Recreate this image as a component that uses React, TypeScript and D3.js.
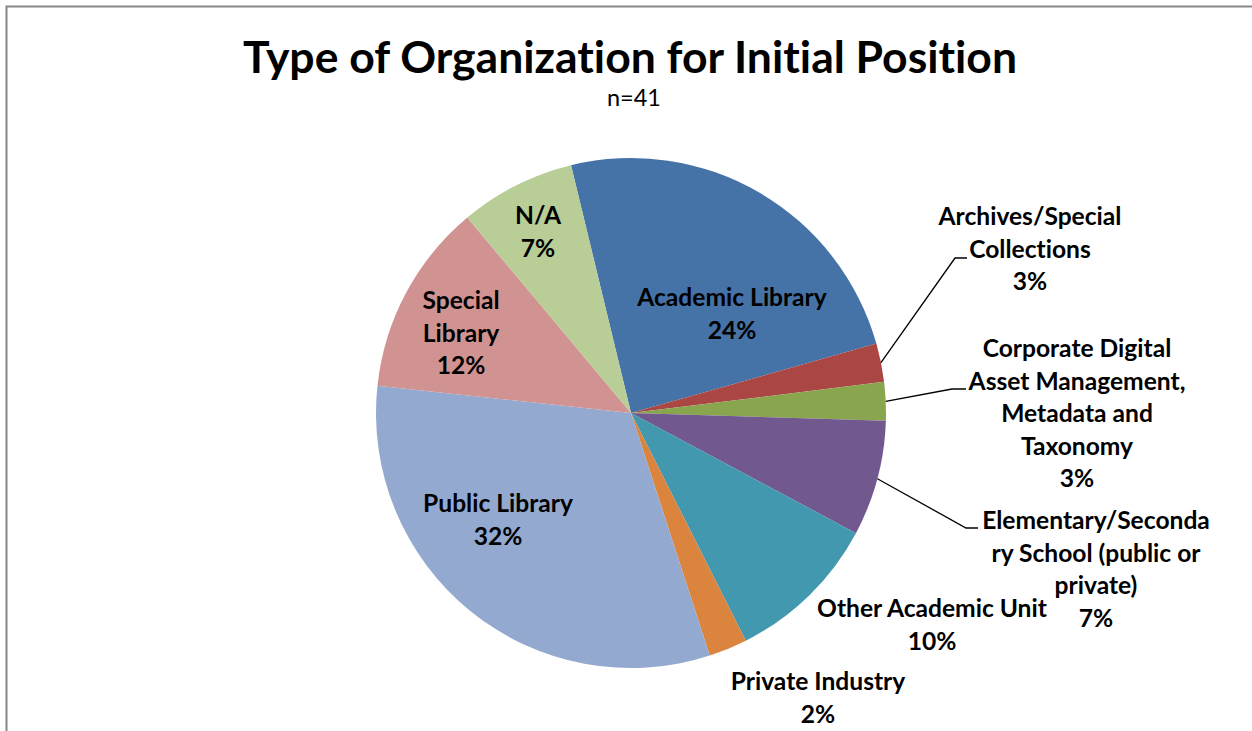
import React from "react";
import * as d3 from "d3";

// ---- data ----
const categories = [
  "Academic Library",
  "Archives/Special Collections",
  "Corporate Digital Asset Management, Metadata and Taxonomy",
  "Elementary/Secondary School (public or private)",
  "Other Academic Unit",
  "Private Industry",
  "Public Library",
  "Special Library",
  "N/A",
];
const counts = [10, 1, 1, 3, 4, 1, 13, 5, 3];
const percentLabels = ["24%", "3%", "3%", "7%", "10%", "2%", "32%", "12%", "7%"];
const labelLines = [
  ["Academic Library"],
  ["Archives/Special", "Collections"],
  ["Corporate Digital", "Asset Management,", "Metadata and", "Taxonomy"],
  ["Elementary/Seconda", "ry School (public or", "private)"],
  ["Other Academic Unit"],
  ["Private Industry"],
  ["Public Library"],
  ["Special", "Library"],
  ["N/A"],
];
const colors = [
  "#4572A7", "#AA4643", "#89A54E", "#71588F", "#4198AF",
  "#DB843D", "#93A9CF", "#D19392", "#B9CD96",
];
const title = "Type of Organization for Initial Position";
const subtitle = "n=41";

// ---- layout (offsets relative to pie centre) ----
const W = 1252;
const H = 731;
const cx = 631;
const cy = 413;
const R = 255;
const startDeg = -13.6;
const lineH = 32.5;
// label anchor: centre x offset, first baseline y offset, optional leader elbow
const labelLayout: { dx: number; dy: number; leader?: [number, number, number] }[] = [
  { dx: 101, dy: -107 },
  { dx: 399, dy: -188, leader: [324, -155, 336] },
  { dx: 446, dy: -56, leader: [321, -24, 335] },
  { dx: 465, dy: 116, leader: [335, 115, 347] },
  { dx: 301, dy: 204 },
  { dx: 187, dy: 277 },
  { dx: -133, dy: 99 },
  { dx: -170, dy: -104 },
  { dx: -93, dy: -189 },
];

const FONT = "Lato, 'Open Sans', sans-serif";
const noLig = { fontVariantLigatures: "none" as const, fontKerning: "normal" as const };

export default function App() {
  const pie = d3
    .pie<number>()
    .sort(null)
    .value((d) => d)
    .startAngle((startDeg * Math.PI) / 180)
    .endAngle(((startDeg + 360) * Math.PI) / 180);
  const arcs = pie(counts);
  const arc = d3.arc<d3.PieArcDatum<number>>().innerRadius(0).outerRadius(R);

  return (
    <svg
      width={W}
      height={H}
      style={{ position: "absolute", left: 0, top: 0, background: "#fff" }}
    >
      <rect x={6.5} y={6.5} width={W + 20} height={H + 20} fill="#fff" stroke="#878787" strokeWidth={2} />
      <text
        x={630}
        y={73}
        textAnchor="middle"
        fontFamily={FONT}
        fontWeight={700}
        fontSize={44.5}
        fill="#000"
        style={noLig}
      >
        {title}
      </text>
      <text x={634} y={106} textAnchor="middle" fontFamily={FONT} fontSize={23.5} fill="#000" style={noLig}>
        {subtitle}
      </text>
      <g transform={`translate(${cx},${cy})`}>
        {arcs.map((a, i) => (
          <path key={categories[i]} d={arc(a) || ""} fill={colors[i]} />
        ))}
        {arcs.map((a, i) => {
          const L = labelLayout[i];
          if (!L.leader) return null;
          const mid = (a.startAngle + a.endAngle) / 2;
          const sx = R * Math.sin(mid);
          const sy = -R * Math.cos(mid);
          const [ex, ey, hx] = L.leader;
          return (
            <polyline
              key={"l" + i}
              points={`${sx},${sy} ${ex},${ey} ${hx},${ey}`}
              fill="none"
              stroke="#000"
              strokeWidth={1.3}
            />
          );
        })}
        {labelLines.map((lines, i) => {
          const L = labelLayout[i];
          const all = [...lines, percentLabels[i]];
          return (
            <text
              key={"t" + i}
              textAnchor="middle"
              fontFamily={FONT}
              fontWeight={700}
              fontSize={24.6}
              fill="#000"
              style={noLig}
            >
              {all.map((s, j) => (
                <tspan key={j} x={L.dx} y={L.dy + j * lineH}>
                  {s}
                </tspan>
              ))}
            </text>
          );
        })}
      </g>
    </svg>
  );
}
